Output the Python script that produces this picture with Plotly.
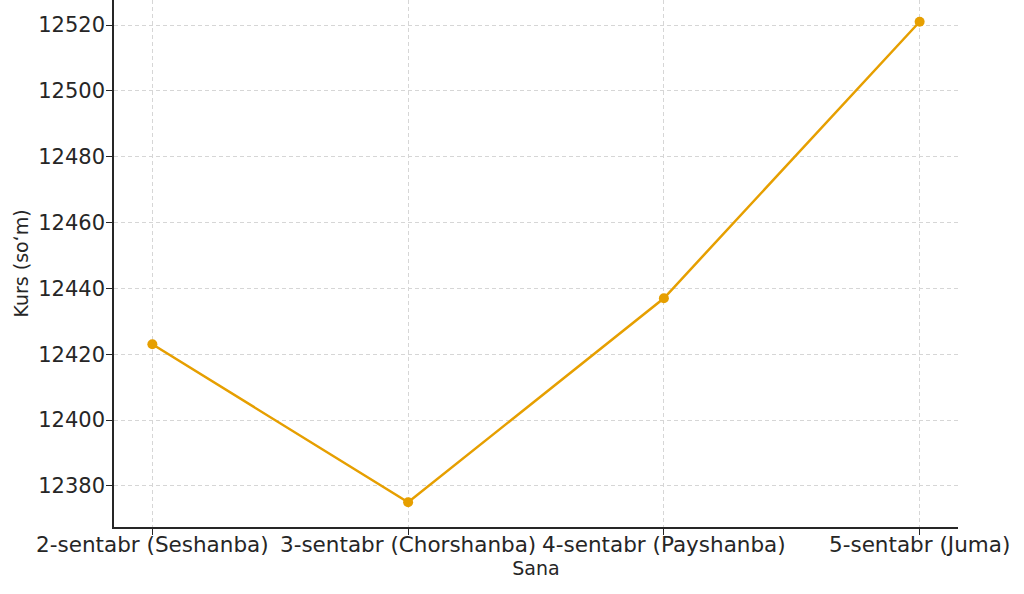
import plotly.graph_objects as go

dates = ["2-sentabr (Seshanba)", "3-sentabr (Chorshanba)", "4-sentabr (Payshanba)", "5-sentabr (Juma)"]
rates = [12423, 12375, 12437, 12521]
y_ticks = [12380, 12400, 12420, 12440, 12460, 12480, 12500, 12520]

fig = go.Figure()
fig.add_trace(go.Scatter(
    x=dates, y=rates, mode="lines+markers",
    line=dict(color="#E69F00", width=2.5),
    marker=dict(color="#E69F00", size=10),
))

font = "DejaVu Sans, sans-serif"
fig.update_layout(
    width=1024, height=594,
    margin=dict(l=114, r=66, t=0, b=67),
    paper_bgcolor="white", plot_bgcolor="white",
    showlegend=False,
    font=dict(family=font, color="#262626"),
)
fig.update_xaxes(
    title=dict(text="Sana", font=dict(size=19), standoff=3),
    tickfont=dict(size=21.5),
    range=[-0.15, 3.15],
    showgrid=True, gridcolor="#d6d6d6", griddash="4px,3px", gridwidth=1,
    showline=True, linecolor="#262626", linewidth=1.5,
    ticks="outside", ticklen=6, tickcolor="#262626",
    ticklabelstandoff=-9,
    zeroline=False, automargin=False,
)
fig.update_yaxes(
    title=dict(text="Kurs (soʻm)", font=dict(size=19), standoff=5),
    tickfont=dict(size=21),
    range=[12367.5, 12527.6],
    tickvals=y_ticks, tickformat="d",
    showgrid=True, gridcolor="#d6d6d6", griddash="4px,3px", gridwidth=1,
    showline=True, linecolor="#262626", linewidth=1.5,
    ticks="outside", ticklen=6, tickcolor="#262626",
    ticklabelstandoff=-3,
    zeroline=False, automargin=False,
)
fig.write_html("out.html", post_script="document.body.style.margin='0';",
               config={"displayModeBar": False})
